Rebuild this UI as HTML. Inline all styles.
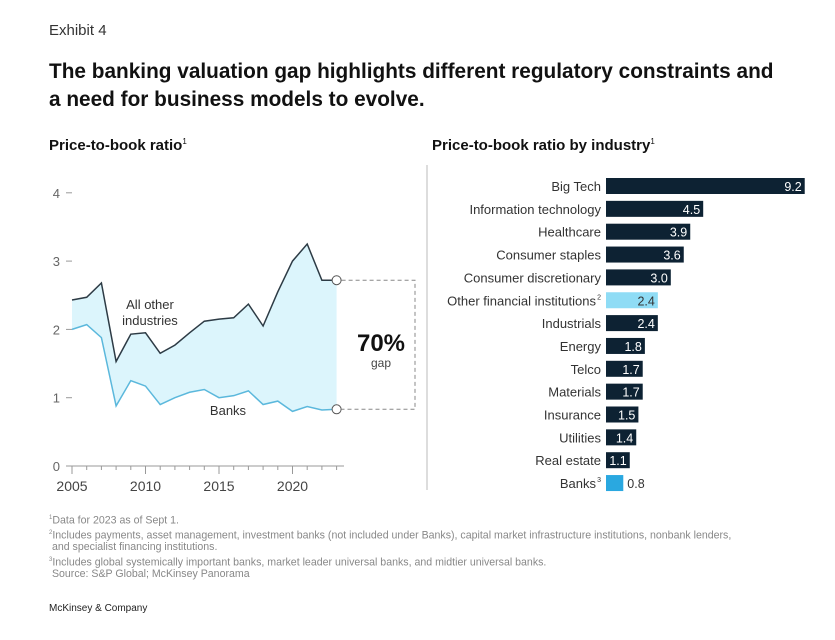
<!DOCTYPE html>
<html><head><meta charset="utf-8">
<style>
body{margin:0;background:#fff;font-family:"Liberation Sans",Arial,sans-serif;color:#111;}
#wrap{position:relative;width:835px;height:640px;overflow:hidden;}
.t{position:absolute;white-space:nowrap;}
</style></head><body>
<div id="wrap">
<div class="t" style="left:49px;top:22px;font-size:15px;color:#333">Exhibit 4</div>
<div class="t" style="left:49px;top:58px;font-size:20.8px;font-weight:bold;line-height:28px;color:#111">The banking valuation gap highlights different regulatory constraints and<br>a need for business models to evolve.</div>
<div class="t" style="left:49px;top:137px;font-size:15px;font-weight:bold">Price-to-book ratio<sup style="font-size:8px;font-weight:normal">1</sup></div>
<div class="t" style="left:432px;top:137px;font-size:15px;font-weight:bold">Price-to-book ratio by industry<sup style="font-size:8px;font-weight:normal">1</sup></div>
<svg id="c" width="835" height="640" style="position:absolute;left:0;top:0"></svg>
<div class="t" style="left:49px;top:512px;font-size:10.6px;color:#888;line-height:12.2px"><sup style="font-size:6px">1</sup>Data for 2023 as of Sept 1.<br><sup style="font-size:6px">2</sup>Includes payments, asset management, investment banks (not included under Banks), capital market infrastructure institutions, nonbank lenders,<br>&nbsp;and specialist financing institutions.<br><sup style="font-size:6px">3</sup>Includes global systemically important banks, market leader universal banks, and midtier universal banks.<br>&nbsp;Source: S&amp;P Global; McKinsey Panorama</div>
<div class="t" style="left:49px;top:603px;font-size:10px;color:#222">McKinsey &amp; Company</div>
</div>
<script>
const years=[2005,2006,2007,2008,2009,2010,2011,2012,2013,2014,2015,2016,2017,2018,2019,2020,2021,2022,2023];
const others=[2.43,2.47,2.68,1.53,1.93,1.95,1.65,1.77,1.95,2.12,2.15,2.17,2.37,2.05,2.55,3.0,3.25,2.72,2.72];
const banks=[2.0,2.07,1.88,0.88,1.25,1.17,0.9,1.0,1.08,1.12,1.0,1.03,1.1,0.9,0.95,0.8,0.87,0.82,0.83];
const yTicks=[0,1,2,3,4];
const xTicks=[2005,2010,2015,2020];
const industries=["Big Tech","Information technology","Healthcare","Consumer staples","Consumer discretionary","Other financial institutions","Industrials","Energy","Telco","Materials","Insurance","Utilities","Real estate","Banks"];
const ratios=[9.2,4.5,3.9,3.6,3.0,2.4,2.4,1.8,1.7,1.7,1.5,1.4,1.1,0.8];
const sups=["","","","","","2","","","","","","","","3"];

const NS="http://www.w3.org/2000/svg",svg=document.getElementById('c');
function el(t,a,p){const e=document.createElementNS(NS,t);for(const k in a)e.setAttribute(k,a[k]);(p||svg).appendChild(e);return e;}
const X=y=>72+(y-2005)*14.7, Y=v=>466-v*68.3;
yTicks.forEach(v=>{const t=el('text',{x:60,y:Y(v)+5,'font-size':13,fill:'#666','text-anchor':'end'});t.textContent=v;

el('line',{x1:66,x2:72,y1:Y(v),y2:Y(v),stroke:'#999'});});
el('line',{x1:66,x2:344,y1:466,y2:466,stroke:'#999'});
years.forEach(y=>el('line',{x1:X(y),x2:X(y),y1:466,y2:xTicks.includes(y)?474:470,stroke:'#999'}));
xTicks.forEach(y=>{const t=el('text',{x:X(y),y:491,'font-size':14,fill:'#444','text-anchor':'middle'});t.textContent=y;
});
let d=years.map((y,i)=>(i?'L':'M')+X(y)+','+Y(others[i])).join('')+years.slice().reverse().map((y,j)=>{const i=years.length-1-j;return 'L'+X(y)+','+Y(banks[i]);}).join('')+'Z';
const a=el('path',{d:d,fill:'#dcf5fc'});
const l1=el('path',{d:years.map((y,i)=>(i?'L':'M')+X(y)+','+Y(others[i])).join(''),fill:'none',stroke:'#2d3b45','stroke-width':1.5});

const l2=el('path',{d:years.map((y,i)=>(i?'L':'M')+X(y)+','+Y(banks[i])).join(''),fill:'none',stroke:'#5bb8dc','stroke-width':1.5});

const n=years.length-1,ex=X(years[n]);
el('circle',{cx:ex,cy:Y(others[n]),r:4.5,fill:'#fff',stroke:'#555'});
el('circle',{cx:ex,cy:Y(banks[n]),r:4.5,fill:'#fff',stroke:'#555'});
el('path',{d:`M${ex+5},${Y(others[n])}H415V${Y(banks[n])}H${ex+5}`,fill:'none',stroke:'#888','stroke-dasharray':'4,3'});
function txt(x,y,s,sz,c,anc,w,name){const t=el('text',{x:x,y:y,'font-size':sz,fill:c,'text-anchor':anc||'start','font-weight':w||'normal'});t.textContent=s;return t;}
txt(150,309,'All other',13,'#333','middle',0,'series-label-others');
txt(150,325,'industries',13,'#333','middle',0,'series-label-others-2');
txt(228,415,'Banks',13,'#333','middle',0,'series-label-banks');
txt(381,351,'70%',24,'#111','middle','bold','gap-value');
txt(381,367,'gap',12,'#444','middle',0,'gap-label');
el('line',{x1:427,x2:427,y1:165,y2:490,stroke:'#bbb'});
const BX=606,S=21.6,R0=186,ST=22.85;
industries.forEach((name,i)=>{const cy=R0+i*ST,w=ratios[i]*S;
 const isB=name==='Banks',isO=sups[i]==='2';
 const r=el('rect',{x:BX,y:cy-8,width:w,height:16,fill:isB?'#2aa8e0':isO?'#8fdcf5':'#0d2233'});
 
 const t=el('text',{x:BX-5-(sups[i]?5:0),y:cy+5,'font-size':13,fill:'#333','text-anchor':'end'});t.textContent=name;
 
 if(sups[i]){const s=el('text',{x:BX-5,y:cy-1,'font-size':7,fill:'#333','text-anchor':'end'});s.textContent=sups[i];}
 const v=el('text',{x:isB?BX+w+4:BX+w-3,y:cy+5,'font-size':12.5,fill:isB?'#333':isO?'#333':'#fff','text-anchor':isB?'start':'end'});v.textContent=ratios[i].toFixed(1);
 
});
</script>
</body></html>
